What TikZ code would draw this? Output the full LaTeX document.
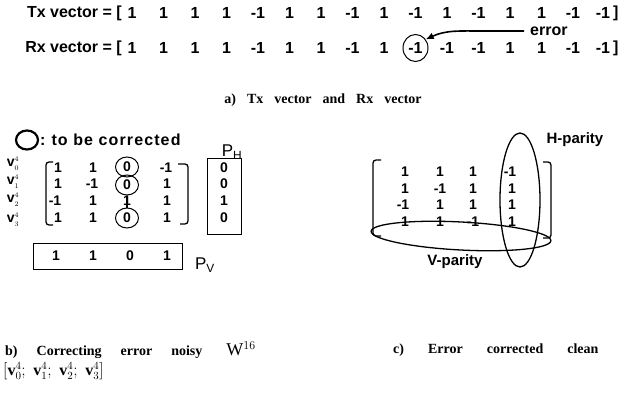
\documentclass[tikz,border=0pt]{standalone}
\usepackage{fontspec}
\setmainfont{Liberation Serif}
\setsansfont{Liberation Sans}
\usepackage{tikz}
\usetikzlibrary{arrows.meta}
\usetikzlibrary{shapes.geometric}

\tikzset{
  vec/.style={font=\sffamily\bfseries\fontsize{16}{18}\selectfont, inner sep=0pt},
  ent/.style={font=\sffamily\bfseries\fontsize{14}{16}\selectfont, inner sep=0pt},
  lbl/.style={font=\sffamily\bfseries\fontsize{15}{17}\selectfont, inner sep=0pt},
  vlbl/.style={font=\sffamily\bfseries\fontsize{14}{14}\selectfont, inner sep=0pt},
  capt/.style={font=\bfseries\fontsize{14}{16}\selectfont, inner sep=0pt},
  ring/.style={draw, ellipse, line width=1pt, minimum width=23pt, minimum height=20pt},
  brk/.style={line width=1.3pt, rounded corners=3pt},
  box/.style={draw, line width=1pt}
}

\begin{document}
\begin{tikzpicture}[x=1pt,y=-1pt]
\useasboundingbox (0,0) rectangle (625,399);

% a) Tx and Rx vectors
\node[vec, anchor=east] (txname) at (122,13) {Tx vector = [};
\node[vec] (tx1) at (132,13) {1};
\node[vec] (tx2) at (163.5,13) {1};
\node[vec] (tx3) at (195,13) {1};
\node[vec] (tx4) at (226.5,13) {1};
\node[vec] (tx5) at (258,13) {-1};
\node[vec] (tx6) at (289.5,13) {1};
\node[vec] (tx7) at (321,13) {1};
\node[vec] (tx8) at (352.5,13) {-1};
\node[vec] (tx9) at (384,13) {1};
\node[vec] (tx10) at (415.5,13) {-1};
\node[vec] (tx11) at (447,13) {1};
\node[vec] (tx12) at (478.5,13) {-1};
\node[vec] (tx13) at (510,13) {1};
\node[vec] (tx14) at (541.5,13) {1};
\node[vec] (tx15) at (573,13) {-1};
\node[vec] (tx16) at (603,13) {-1};
\node[vec, anchor=west] (txend) at (613,13) {]};

\node[vec, anchor=east] (rxname) at (122,48) {Rx vector = [};
\node[vec] (rx1) at (132,48) {1};
\node[vec] (rx2) at (163.5,48) {1};
\node[vec] (rx3) at (195,48) {1};
\node[vec] (rx4) at (226.5,48) {1};
\node[vec] (rx5) at (258,48) {-1};
\node[vec] (rx6) at (289.5,48) {1};
\node[vec] (rx7) at (321,48) {1};
\node[vec] (rx8) at (352.5,48) {-1};
\node[vec] (rx9) at (384,48) {1};
\node[vec, ring, minimum width=25pt, minimum height=27pt] (rx10) at (415.5,48) {-1};
\node[vec] (rx11) at (447,48) {-1};
\node[vec] (rx12) at (478.5,48) {-1};
\node[vec] (rx13) at (510,48) {1};
\node[vec] (rx14) at (541.5,48) {1};
\node[vec] (rx15) at (573,48) {-1};
\node[vec] (rx16) at (603,48) {-1};
\node[vec, anchor=west] (rxend) at (613,48) {]};

\node[vec, anchor=west] (error) at (530,31) {error};
\draw[-{Latex[length=8pt,width=7pt]}, line width=1.6pt] ([xshift=-6pt]error.west) -- ++(-42,0) to[out=180,in=25] (rx10.40);

\node[capt] (capa) at (323,100) {a)\hspace{11pt}Tx\hspace{11pt}vector\hspace{11pt}and\hspace{11pt}Rx\hspace{11pt}vector};

% b) correcting the noisy matrix
\node[ring, line width=2.2pt, minimum width=22pt, minimum height=19pt] (legring) at (27,140) {};
\node[lbl, anchor=west, font=\sffamily\bfseries\fontsize{16}{18}\selectfont] (legtext) at (40,140) {\addfontfeatures{LetterSpace=7}:\hspace{6pt}to be corrected};
\node[lbl, font=\sffamily\fontsize{17}{19}\selectfont] (ph) at (232,152) {P\textsubscript{H}};

\node[vlbl] (v0) at (13,163) {v$\smash{^{\scriptscriptstyle 4}_{\scriptscriptstyle 0}}$};
\node[vlbl] (v1) at (13,181) {v$\smash{^{\scriptscriptstyle 4}_{\scriptscriptstyle 1}}$};
\node[vlbl] (v2) at (13,199) {v$\smash{^{\scriptscriptstyle 4}_{\scriptscriptstyle 2}}$};
\node[vlbl] (v3) at (13,219) {v$\smash{^{\scriptscriptstyle 4}_{\scriptscriptstyle 3}}$};

\draw[brk] (53,162) -- (46,162) -- (46,225) -- (53,225);
\draw[brk] (178,164) -- (188,164) -- (188,224) -- (180,224);

\node[ent] (b11) at (58,168) {1};
\node[ent] (b12) at (93,168) {1};
\node[ent, ring] (b13) at (127,167) {0};
\node[ent] (b14) at (166,168) {-1};
\node[ent] (b21) at (58,184) {1};
\node[ent] (b22) at (92,184) {-1};
\node[ent, ring] (b23) at (127,185) {0};
\node[ent] (b24) at (167,184) {1};
\node[ent] (b31) at (55,201) {-1};
\node[ent] (b32) at (93,201) {1};
\node[ent] (b33) at (127,201) {1};
\node[ent] (b34) at (167,201) {1};
\node[ent] (b41) at (58,218) {1};
\node[ent] (b42) at (93,218) {1};
\node[ent, ring] (b43) at (127,218) {0};
\node[ent] (b44) at (167,218) {1};
\draw[line width=1.3pt] (b23.south) -- (b43.north);

\draw[box] (207,158) rectangle (241,234);
\node[ent] (h1) at (224,168) {0};
\node[ent] (h2) at (224,184) {0};
\node[ent] (h3) at (224,201) {1};
\node[ent] (h4) at (224,218) {0};

\draw[box] (33,243) rectangle (182,269);
\node[ent] (p1) at (56,256) {1};
\node[ent] (p2) at (93,256) {1};
\node[ent] (p3) at (130,256) {0};
\node[ent] (p4) at (167,256) {1};
\node[lbl, font=\sffamily\fontsize{17}{19}\selectfont] (pv) at (205,265) {P\textsubscript{V}};

\node[capt, anchor=west] (capb) at (5,350) {b)\hspace{19pt}Correcting\hspace{19pt}error\hspace{19pt}noisy\hspace{24pt}{\mdseries\fontsize{18}{20}\selectfont W$^{16}$}};
\node[capt, anchor=west, font=\bfseries\fontsize{16}{18}\selectfont] (capbv) at (3,371) {$\left[\mathbf{v}^4_0;\;\mathbf{v}^4_1;\;\mathbf{v}^4_2;\;\mathbf{v}^4_3\right]$};

% c) corrected clean matrix
\draw[brk] (381,160) -- (373,160) -- (373,236) -- (381,236);
\draw[brk] (543,162) -- (551,162) -- (551,238) -- (543,238);

\node[ent] (c11) at (405,172) {1};
\node[ent] (c12) at (440,172) {1};
\node[ent] (c13) at (473,172) {1};
\node[ent] (c14) at (510,172) {-1};
\node[ent] (c21) at (405,189) {1};
\node[ent] (c22) at (440,189) {-1};
\node[ent] (c23) at (473,189) {1};
\node[ent] (c24) at (512,189) {1};
\node[ent] (c31) at (403,205) {-1};
\node[ent] (c32) at (440,205) {1};
\node[ent] (c33) at (473,205) {1};
\node[ent] (c34) at (512,205) {1};
\node[ent] (c41) at (405,222) {1};
\node[ent] (c42) at (440,222) {1};
\node[ent] (c43) at (473,222) {-1};
\node[ent] (c44) at (512,222) {1};

\draw[line width=1.3pt] (520,200) ellipse (20 and 67);
\draw[line width=1.3pt, rotate around={-3:(461,236)}] (461,236) ellipse (90 and 14);
\node[lbl] (hpar) at (575,140) {H-parity};
\node[lbl] (vpar) at (455,262) {V-parity};

\node[capt, anchor=west] (capc) at (393,350) {c)\hspace{24pt}Error\hspace{24pt}corrected\hspace{24pt}clean};
\end{tikzpicture}
\end{document}
